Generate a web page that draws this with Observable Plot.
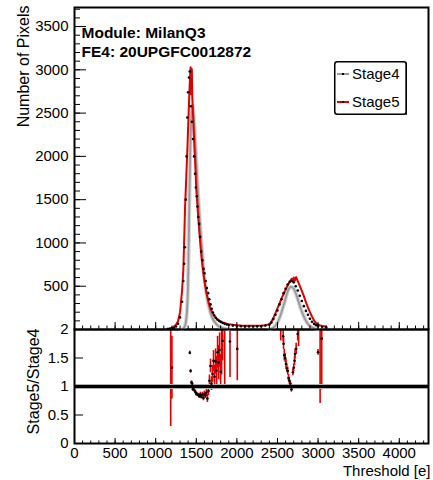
<!DOCTYPE html>
<html><head><meta charset="utf-8">
<script src="https://cdn.jsdelivr.net/npm/d3@7"></script>
<script src="https://cdn.jsdelivr.net/npm/@observablehq/plot@0.6"></script>
<style>
body{margin:0;background:#fff;}
#wrap{position:relative;width:433px;height:480px;overflow:hidden;font-family:"Liberation Sans",Arial,Helvetica,sans-serif;}
#top,#bot{position:absolute;left:0;}
#top{top:0px;} #bot{top:320px;}
#legend{position:absolute;left:334px;top:61px;width:73px;height:54px;}
</style></head><body>
<div id="wrap"><div id="bot"></div><div id="top"></div>
<div id="legend"><svg width="76" height="57" style="overflow:visible">
<rect x="0.75" y="0.75" width="71.5" height="52.5" rx="2.5" fill="#fff" stroke="#000" stroke-width="1.5"/>
<line x1="72.3" y1="2" x2="72.3" y2="53.8" stroke="#000" stroke-width="1.3"/>
<line x1="3" y1="13" x2="15" y2="13" stroke="#777" stroke-width="1.5"/><rect x="8" y="12" width="2" height="2" fill="#000"/>
<text x="18" y="13" dy="0.35em" font-size="15" font-family="Liberation Sans, Arial, sans-serif">Stage4</text>
<line x1="3" y1="41" x2="15" y2="41" stroke="#e00000" stroke-width="2"/><rect x="8" y="40" width="2" height="2" fill="#300"/>
<text x="18" y="41" dy="0.35em" font-size="15" font-family="Liberation Sans, Arial, sans-serif">Stage5</text>
</svg></div>
</div>
<script>
// ---------- data ----------
const stage4X = [1150,1175,1200,1225,1250,1275,1300,1325,1340,1350,1360,1370,1380,1390,1400,1410,1420,1432,1445,1460,1473,1485,1495,1506,1515,1525,1535,1547,1560,1575,1590,1600,1615,1630,1645,1660,1675,1690,1705,1720,1740,1760,1780,1800,1825,1850,1875,1900,1950,2000,2050,2100,2150,2200,2250,2300,2350,2400,2425,2450,2475,2500,2525,2550,2575,2600,2625,2650,2675,2700,2725,2750,2775,2800,2825,2850,2875,2900,2925,2950,2975,3000,3050,3100];
const stage4Y = [5,8,12,20,35,65,140,320,560,760,950,1500,2000,2450,2740,2910,2980,2580,2400,2200,2000,1800,1640,1540,1420,1300,1220,1070,900,800,700,650,560,480,420,350,290,240,195,165,135,115,100,88,75,65,58,52,45,40,38,36,35,35,36,38,45,55,80,120,170,220,290,350,420,470,520,550,560,545,500,450,390,330,270,215,170,125,90,65,50,40,32,26];

const stage5X = [1150,1175,1200,1225,1250,1275,1300,1325,1340,1350,1362,1375,1390,1400,1410,1420,1425,1430,1435,1440,1445,1450,1460,1475,1490,1500,1515,1525,1540,1550,1565,1575,1590,1600,1615,1625,1640,1650,1665,1675,1700,1725,1750,1775,1800,1825,1850,1875,1900,1950,2000,2050,2100,2150,2200,2250,2300,2350,2400,2425,2450,2475,2500,2530,2550,2575,2600,2625,2650,2675,2690,2700,2715,2730,2750,2775,2800,2825,2850,2875,2900,2925,2950,2975,3000,3025,3050,3075,3100];
const stage5Y = [8,12,20,32,55,95,200,450,680,1000,1420,1720,2080,2350,2620,2850,2960,3030,2720,2880,3010,2700,2480,2150,1850,1620,1420,1280,1100,980,830,740,630,560,480,420,360,320,270,240,190,155,125,105,92,82,75,68,62,55,50,46,44,42,42,44,46,50,62,90,135,190,245,310,360,410,460,510,550,585,555,600,565,605,560,505,445,385,315,255,200,150,105,75,58,48,42,38,34];

const fitPeak1X = [1330,1360,1380,1395,1405,1415,1425,1435,1445,1455,1465,1480,1500,1520,1540,1560,1580,1600,1625,1650,1675,1700,1740,1780,1830,1900];
const fitPeak1Y = [0,40,150,420,900,1500,2000,2350,2540,2590,2520,2300,1950,1600,1300,1040,800,600,420,290,195,130,70,35,15,4];
const fitPeak2X = [2400,2450,2500,2550,2600,2630,2665,2700,2740,2780,2820,2860,2900,2950,3000];
const fitPeak2Y = [2,20,80,200,360,450,495,470,380,260,160,85,40,12,3];

const ratioX = [1185,1200,1420,1430,1440,1450,1458,1468,1478,1490,1500,1512,1525,1537,1550,1562,1575,1588,1600,1612,1625,1637,1650,1662,1675,1687,1700,1712,1725,1737,1750,1762,1775,1787,1800,1812,1825,1850,1915,2005,2540,2570,2575,2584,2595,2605,2615,2626,2636,2646,2658,2667,2672,2690,2700,2710,2716,2730,2749,2760,3000,3025,3045];
const ratioY = [2.6,1.33,1.59,1.27,1.07,1.05,0.95,0.98,0.93,0.90,0.87,0.86,0.85,0.83,0.86,0.82,0.86,0.80,0.87,0.84,0.89,0.79,0.92,1.10,1.36,1.05,1.22,1.45,1.17,1.44,1.28,1.60,1.42,1.64,1.26,2.4,1.80,2.5,1.79,1.66,2.5,1.88,1.75,1.55,1.50,1.40,1.32,1.27,1.15,1.10,1.05,1.00,0.95,1.25,1.33,1.45,1.57,1.66,1.92,2.3,1.60,2.5,1.84];
const ratioErr = [2.3,0.55,0.03,0.03,0.03,0.03,0.03,0.03,0.03,0.03,0.03,0.03,0.03,0.04,0.04,0.04,0.04,0.05,0.05,0.05,0.06,0.07,0.08,0.10,0.12,0.12,0.15,0.18,0.2,0.22,0.25,0.28,0.3,0.3,0.3,1.2,0.35,1.5,0.63,0.56,0.7,0.1,0.1,0.1,0.08,0.08,0.07,0.07,0.06,0.06,0.05,0.05,0.05,0.06,0.07,0.08,0.09,0.1,0.12,0.6,0.05,1.8,0.9];

const countTicks = [500,1000,1500,2000,2500,3000,3500];
const ratioTicks = [0,0.5,1,1.5,2];
const thresholdTicks = [0,500,1000,1500,2000,2500,3000,3500,4000];
const titleLines = ["Module: MilanQ3","FE4: 20UPGFC0012872"];

// ---------- tables ----------
const zip = (xs, ys) => xs.map((x, i) => ({x, y: ys[i]}));
const s4 = zip(stage4X, stage4Y);
const s5 = zip(stage5X, stage5Y);
const f1 = zip(fitPeak1X, fitPeak1Y);
const f2 = zip(fitPeak2X, fitPeak2Y);
const ratio = ratioX.map((x, i) => ({x, y: ratioY[i], lo: ratioY[i] - ratioErr[i], hi: ratioY[i] + ratioErr[i]}));

const FONT = "Liberation Sans, Arial, Helvetica, sans-serif";
const xDomain = [0, 4360];
const steps = (a, b, s) => d3.range(a, b + 1e-9, s);

const W = 433, ML = 74, MR = 5;
const FW = W - ML - MR;            // frame width in px
const TOP_H = 335, TOP_MT = 7, TOP_MB = 6, TOP_FH = TOP_H - TOP_MT - TOP_MB;
const BOT_H = 160, BOT_MT = 9, BOT_MB = 37, BOT_FH = BOT_H - BOT_MT - BOT_MB;

// inward ticks: rules spanning the frame, inset down to the tick length
const yTicks = (vals, len) => Plot.ruleY(vals, {stroke: "black", strokeWidth: 1, insetRight: FW - len});
const xTicks = (vals, len, fh) => Plot.ruleX(vals, {stroke: "black", strokeWidth: 1, insetTop: fh - len});

const topPlot = Plot.plot({
  width: W, height: TOP_H,
  marginLeft: ML, marginRight: MR, marginTop: TOP_MT, marginBottom: TOP_MB,
  x: {domain: xDomain, axis: null},
  y: {domain: [0, 3720], axis: null},
  style: {fontFamily: FONT, fontSize: "15px", background: "transparent", overflow: "visible", color: "black"},
  marks: [
    Plot.line(f1, {x: "x", y: "y", stroke: "#d4d4d4", strokeWidth: 4, curve: "catmull-rom"}),
    Plot.line(f1, {x: "x", y: "y", stroke: "#999", strokeWidth: 1.8, curve: "catmull-rom"}),
    Plot.line(f2, {x: "x", y: "y", stroke: "#d4d4d4", strokeWidth: 4, curve: "catmull-rom"}),
    Plot.line(f2, {x: "x", y: "y", stroke: "#999", strokeWidth: 1.8, curve: "catmull-rom"}),
    Plot.line(s5, {x: "x", y: "y", stroke: "#e00000", strokeWidth: 2}),
    Plot.dot(s4, {x: "x", y: "y", r: 1.3, fill: "black"}),
    yTicks(steps(100, 3700, 100), 6),
    yTicks(steps(500, 3500, 500), 12),
    xTicks(steps(100, 4300, 100), 3.5, TOP_FH),
    xTicks(steps(500, 4000, 500), 7, TOP_FH),
    Plot.axisY(countTicks, {tickSize: 0, tickPadding: 6, stroke: "none", fontSize: 15, label: null, tickFormat: d => String(d)}),
    Plot.frame({stroke: "black", strokeWidth: 2}),
    Plot.text(["Number of Pixels"], {text: d => d, frameAnchor: "top-left", dx: -57, dy: -2, rotate: -90, textAnchor: "end", fontSize: 16, fill: "black"}),
    Plot.text([titleLines[0]], {text: d => d, frameAnchor: "top-left", dx: 7, dy: 19, textAnchor: "start", fontSize: 15.5, fontWeight: "bold", fill: "black"}),
    Plot.text([titleLines[1]], {text: d => d, frameAnchor: "top-left", dx: 7, dy: 38, textAnchor: "start", fontSize: 15.5, fontWeight: "bold", fill: "black"})
  ]
});
document.getElementById("top").appendChild(topPlot);

const botPlot = Plot.plot({
  width: W, height: BOT_H,
  marginLeft: ML, marginRight: MR, marginTop: BOT_MT, marginBottom: BOT_MB,
  x: {domain: xDomain, axis: null},
  y: {domain: [0, 2], axis: null},
  style: {fontFamily: FONT, fontSize: "15px", background: "transparent", overflow: "visible", color: "black"},
  marks: [
    Plot.ruleX(ratio, {x: "x", y1: "lo", y2: "hi", stroke: "#e00000", strokeWidth: 1.6, clip: true}),
    Plot.ruleY([1], {stroke: "#b0b0b0", strokeWidth: 5}),
    Plot.ruleY([1], {stroke: "black", strokeWidth: 3}),
    Plot.dot(ratio, {x: "x", y: "y", r: 1.3, fill: "black", clip: true}),
    yTicks(ratioTicks, 9),
    xTicks(steps(100, 4300, 100), 2.5, BOT_FH),
    xTicks(steps(500, 4000, 500), 5, BOT_FH),
    Plot.axisY(ratioTicks, {tickSize: 0, tickPadding: 6, stroke: "none", fontSize: 15, label: null, tickFormat: d => String(d)}),
    Plot.axisX(thresholdTicks, {tickSize: 0, tickPadding: 4, stroke: "none", fontSize: 15, label: null, tickFormat: d => String(d)}),
    Plot.frame({stroke: "black", strokeWidth: 2}),
    Plot.text(["Stage5/Stage4"], {text: d => d, frameAnchor: "top-left", dx: -47, dy: -1, rotate: -90, textAnchor: "end", fontSize: 16, fill: "black"}),
    Plot.text(["Threshold [e]"], {text: d => d, frameAnchor: "bottom-right", dx: 2, dy: 32, textAnchor: "end", fontSize: 15, fill: "black"})
  ]
});
document.getElementById("bot").appendChild(botPlot);
</script>
</body></html>
